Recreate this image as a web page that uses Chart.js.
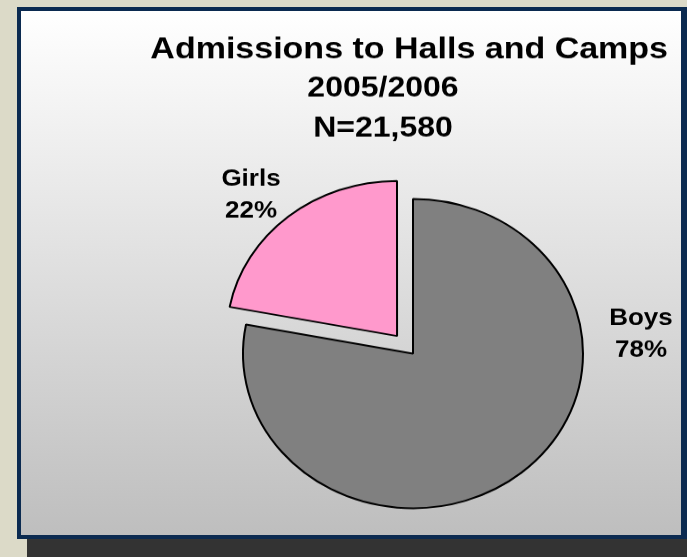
<!DOCTYPE html>
<html>
<head>
<meta charset="utf-8">
<script src="https://cdn.jsdelivr.net/npm/chart.js@4/dist/chart.umd.min.js"></script>
<style>
  html, body { margin: 0; padding: 0; }
  body { width: 687px; height: 557px; overflow: hidden; position: relative; background: #dcdac8; }
  #shadow { position: absolute; left: 27px; top: 538px; width: 700px; height: 40px; background: #333; }
  #panel { position: absolute; left: 17px; top: 7px; width: 670px; height: 532px; box-sizing: border-box;
           border: 4px solid #0b2a50; border-right-width: 6px; background: linear-gradient(#ffffff, #bebebe); }
  /* the original picture is squeezed a little in height, so the pie is an ellipse */
  #wrap { position: absolute; left: 21px; top: 11px; width: 660px; height: 640px; transform: scaleY(0.91); transform-origin: 0 0; }
</style>
</head>
<body>
<div id="shadow"></div>
<div id="panel"></div>
<div id="wrap"><canvas id="chart" width="660" height="640"></canvas></div>
<script>
const categories = ['Boys', 'Girls'];
const shares = [78, 22];
const titleLine = 'Admissions to Halls and Camps';
const subtitleLines = ['2005/2006', 'N=21,580'];

const sliceColors = ['#808080', '#ff99cc'];
const fontFamily = '"Liberation Sans", Arial, sans-serif';

// writes "Boys 78%" etc. next to each slice
const sliceLabels = {
	id: 'sliceLabels',
	afterDatasetsDraw(chart, args, opts) {
		const ctx = chart.ctx;
		const arcs = chart.getDatasetMeta(0).data;
		ctx.save();
		ctx.font = 'bold 26px ' + fontFamily;
		ctx.fillStyle = '#000';
		ctx.textAlign = 'center';
		ctx.textBaseline = 'middle';
		arcs.forEach((arc, i) => {
			const p = opts.place[i];
			ctx.fillText(categories[i], arc.x + p.dx, arc.y + p.dy - 17.5);
			ctx.fillText(shares[i] + '%', arc.x + p.dx, arc.y + p.dy + 17.5);
		});
		ctx.restore();
	}
};

new Chart(document.getElementById('chart'), {
	type: 'pie',
	data: {
		labels: categories,
		datasets: [{
			data: shares,
			backgroundColor: sliceColors,
			borderColor: '#000',
			borderWidth: 2,
			// chart.js moves a slice by offset / 4, so 100 pulls girls out ~25px
			offset: [0, 100],
			radius: 170
		}]
	},
	options: {
		responsive: false,
		animation: false,
		events: [],
		layout: { padding: { left: 77, right: 13, top: 22, bottom: 38 } },
		plugins: {
			// empty legend on the left only pushes the pie to the right of the title centre
			legend: { position: 'left', labels: { padding: 50, filter: () => false } },
			tooltip: { enabled: false },
			title: {
				display: true,
				text: titleLine,
				align: 'end',
				color: '#000',
				padding: 0,
				font: { family: fontFamily, size: 34, weight: 'bold', lineHeight: 1.2 }
			},
			subtitle: {
				display: true,
				text: subtitleLines,
				color: '#000',
				padding: 0,
				font: { family: fontFamily, size: 32, weight: 'bold', lineHeight: 1.375 }
			},
			sliceLabels: {
				place: [{ dx: 228, dy: -21 }, { dx: -162, dy: -174 }]
			}
		}
	},
	plugins: [sliceLabels]
});
</script>
</body>
</html>
